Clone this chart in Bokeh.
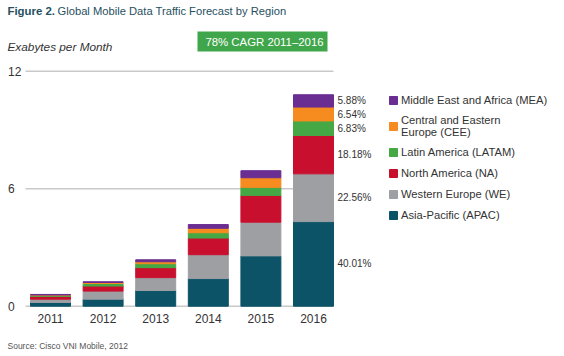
from bokeh.plotting import figure
from bokeh.models import (Range1d, Label, LabelSet, Legend, LegendItem,
                          ColumnDataSource, BoxAnnotation)
from bokeh.core.properties import value
from bokeh.embed import file_html
from bokeh.resources import INLINE

# ---- data ----
years = ["2011", "2012", "2013", "2014", "2015", "2016"]
regions = ["APAC", "WE", "NA", "LATAM", "CEE", "MEA"]
region_labels = ["Asia-Pacific (APAC)", "Western Europe (WE)", "North America (NA)",
                 "Latin America (LATAM)", "Central and Eastern\nEurope (CEE)",
                 "Middle East and Africa (MEA)"]
apac = [0.19, 0.36, 0.80, 1.41, 2.57, 4.32]
we = [0.17, 0.41, 0.66, 1.22, 1.72, 2.44]
na = [0.14, 0.26, 0.51, 0.85, 1.37, 1.96]
latam = [0.04, 0.13, 0.20, 0.27, 0.41, 0.74]
cee = [0.03, 0.05, 0.10, 0.23, 0.49, 0.71]
mea = [0.03, 0.04, 0.10, 0.19, 0.36, 0.63]
share_2016 = ["40.01%", "22.56%", "18.18%", "6.83%", "6.54%", "5.88%"]
y_ticks = [0, 6, 12]
y_tick_labels = ["0", "6", "12"]
title_bold = "Figure 2."
title_rest = "Global Mobile Data Traffic Forecast by Region"
y_title = "Exabytes per Month"
badge_text = "78% CAGR 2011\u20132016"
source_note = "Source: Cisco VNI Mobile, 2012"

colors = ["#0c5368", "#9d9fa3", "#c8102e", "#45a845", "#f68b1f", "#6a2d91"]
FONT = "Liberation Sans"
W, H = 564, 356
BAR_W = 0.76

series = [apac, we, na, latam, cee, mea]
idx = list(range(len(years)))

data = {"x": idx}
for name, s in zip(regions, series):
    data[name] = s
src = ColumnDataSource(data)

# the plotting frame covers the whole canvas so no annotation gets clipped
p = figure(width=W, height=H,
           x_range=Range1d(-0.9506, 9.7718), y_range=Range1d(-2.569, 15.613),
           output_backend="svg", toolbar_location=None,
           min_border=0, min_border_left=0, min_border_right=0,
           min_border_top=0, min_border_bottom=0)
p.outline_line_color = None
p.background_fill_color = "white"
p.border_fill_color = "white"
p.axis.visible = False
p.grid.visible = False

# gridlines limited to the bar area
lo = idx[0] - BAR_W / 2 - 0.095
hi = idx[-1] + BAR_W / 2
p.segment(x0=[lo] * len(y_ticks), x1=[hi] * len(y_ticks), y0=y_ticks, y1=y_ticks,
          line_color="#c9c9c9", line_width=1.5)

# y tick labels
p.text(x=[lo] * len(y_ticks), y=y_ticks, text=y_tick_labels, x_offset=-17.5,
       text_align="left", text_baseline="middle",
       text_font=value(FONT), text_font_size=value("12px"), text_color="#333333")

rends = p.vbar_stack(regions, x="x", width=BAR_W, color=colors, source=src)

# x tick labels
p.text(x=idx, y=[0] * len(idx), text=years, y_offset=12.5,
       text_align="center", text_baseline="middle",
       text_font=value(FONT), text_font_size=value("12px"), text_color="#333333")

# legend (reverse order: MEA on top)
items = [LegendItem(label=region_labels[i], renderers=[rends[i]])
         for i in reversed(range(len(regions)))]
legend = Legend(items=items, location=(388, 134), orientation="vertical",
                glyph_width=10, glyph_height=10, label_standoff=3,
                label_height=14, spacing=7, padding=0, margin=0,
                border_line_color=None, background_fill_alpha=0,
                label_text_font=FONT, label_text_font_size="11.2px",
                label_text_line_height=1.5,
                label_text_color="#333333")
p.add_layout(legend)

# percentage labels for 2016
last = [s[-1] for s in series]
mids = []
acc = 0.0
for v in last:
    mids.append(acc + v / 2)
    acc += v
pct_src = ColumnDataSource(dict(x=[idx[-1]] * len(last), y=mids, t=share_2016))
p.add_layout(LabelSet(x="x", y="y", text="t", source=pct_src, x_offset=24,
                      text_baseline="middle", text_align="left",
                      text_font=value(FONT), text_font_size=value("10px"),
                      text_color=value("#333333")))

# texts (screen units from the canvas bottom-left)
p.add_layout(Label(x=7, y=H - 10, x_units="screen", y_units="screen",
                   text=title_bold, text_font=FONT, text_font_style="bold",
                   text_font_size="11.4px", text_color="#26505f",
                   text_baseline="middle", text_align="left"))
p.add_layout(Label(x=57, y=H - 10, x_units="screen", y_units="screen",
                   text=title_rest, text_font=FONT,
                   text_font_size="11.2px", text_color="#26505f",
                   text_baseline="middle", text_align="left"))
p.add_layout(Label(x=7, y=H - 46.7, x_units="screen", y_units="screen",
                   text=y_title, text_font=FONT, text_font_style="italic",
                   text_font_size="11.8px", text_color="#333333",
                   text_baseline="middle", text_align="left"))
p.add_layout(BoxAnnotation(left=197, right=327, top=H - 31, bottom=H - 51,
                           left_units="screen", right_units="screen",
                           top_units="screen", bottom_units="screen",
                           fill_color="#3fa64b", fill_alpha=1, line_color=None))
p.add_layout(Label(x=264, y=H - 41, x_units="screen", y_units="screen",
                   text=badge_text, text_font=FONT, text_font_size="11.4px",
                   text_color="white", text_baseline="middle", text_align="center"))
p.add_layout(Label(x=7, y=H - 345.7, x_units="screen", y_units="screen",
                   text=source_note, text_font=FONT, text_font_size="8.5px",
                   text_color="#555555", text_baseline="middle", text_align="left"))

open("out.html", "w").write(file_html(p, INLINE))
